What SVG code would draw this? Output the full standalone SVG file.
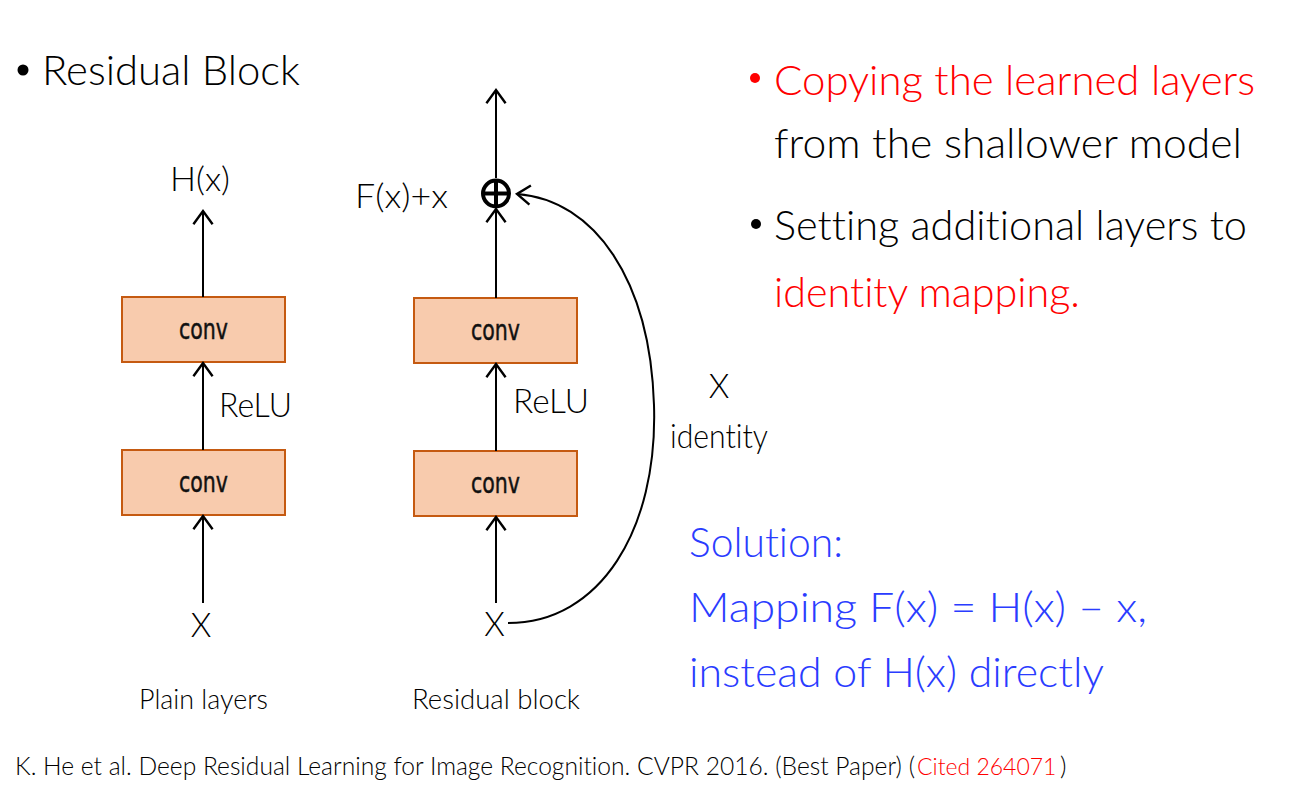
<svg xmlns="http://www.w3.org/2000/svg" width="1307" height="791" viewBox="0 0 1307 791">
  <defs>
    <style>
      text { font-family: Lato, "Open Sans", "Liberation Sans", sans-serif; font-weight: 300; fill: #000; font-variant-ligatures: none; }
      .title { font-size: 41px; }
      .lbl { font-size: 33px; }
      .cap { font-size: 27px; }
      .slide { font-size: 42px; }
      .red { fill: #ff0000; }
      .blue { fill: #2a3cff; }
      .box { fill: #f8cbad; stroke: #c55a11; stroke-width: 2; }
      .conv { font-family: "DejaVu Sans", Verdana, sans-serif; font-weight: normal; font-size: 28px; fill: #111; stroke: #111; stroke-width: 0.5; }
      .edge { fill: none; stroke: #000; stroke-width: 2; }
      .cite { font-size: 25px; }
    </style>
    <marker id="arr" markerUnits="userSpaceOnUse" markerWidth="24" markerHeight="24" viewBox="-14 -10 16 20" refX="0" refY="0" orient="auto">
      <path d="M-11,-8 L0,0 L-11,8" fill="none" stroke="#000" stroke-width="2"/>
    </marker>
  </defs>

  <rect width="1307" height="791" fill="#fff"/>

  <!-- heading -->
  <g id="heading">
    <circle cx="23" cy="70" r="5.5" fill="#000"/>
    <text class="title" x="42" y="85" textLength="258" lengthAdjust="spacingAndGlyphs">Residual Block</text>
  </g>

  <!-- plain stack -->
  <g id="plain-conv-top">
    <rect class="box" x="122" y="297" width="163" height="65"/>
    <text class="conv" x="203.5" y="339" text-anchor="middle" textLength="49" lengthAdjust="spacingAndGlyphs">conv</text>
  </g>
  <g id="plain-conv-bottom">
    <rect class="box" x="122" y="450" width="163" height="65"/>
    <text class="conv" x="203.5" y="492" text-anchor="middle" textLength="49" lengthAdjust="spacingAndGlyphs">conv</text>
  </g>
  <g id="plain-input"><text class="lbl" x="201" y="637" text-anchor="middle">X</text></g>
  <g id="plain-output"><text class="lbl" x="200" y="191" text-anchor="middle" textLength="60" lengthAdjust="spacingAndGlyphs">H(x)</text></g>
  <g id="plain-relu"><text class="lbl" x="219" y="417" textLength="73" lengthAdjust="spacingAndGlyphs">ReLU</text></g>
  <g id="plain-caption"><text class="cap" x="139" y="709" textLength="129" lengthAdjust="spacingAndGlyphs">Plain layers</text></g>

  <!-- residual stack -->
  <g id="res-conv-top">
    <rect class="box" x="414" y="298" width="163" height="65"/>
    <text class="conv" x="495.5" y="340" text-anchor="middle" textLength="49" lengthAdjust="spacingAndGlyphs">conv</text>
  </g>
  <g id="res-conv-bottom">
    <rect class="box" x="414" y="451" width="163" height="65"/>
    <text class="conv" x="495.5" y="493" text-anchor="middle" textLength="49" lengthAdjust="spacingAndGlyphs">conv</text>
  </g>
  <g id="res-sum">
    <circle cx="496" cy="193.5" r="13" fill="#fff" stroke="#000" stroke-width="4"/>
    <path d="M483,193.5 H509 M496,180.5 V206.5" stroke="#000" stroke-width="4"/>
  </g>
  <g id="res-sum-label"><text class="lbl" x="355" y="208" textLength="93" lengthAdjust="spacingAndGlyphs">F(x)+x</text></g>
  <g id="res-input"><text class="lbl" x="494.5" y="636" text-anchor="middle">X</text></g>
  <g id="res-relu"><text class="lbl" x="513" y="413" textLength="76" lengthAdjust="spacingAndGlyphs">ReLU</text></g>
  <g id="res-caption"><text class="cap" x="412" y="709" textLength="168" lengthAdjust="spacingAndGlyphs">Residual block</text></g>
  <g id="identity-label">
    <text class="lbl" x="719" y="398" text-anchor="middle">X</text>
    <text class="lbl" x="670" y="448" textLength="98" lengthAdjust="spacingAndGlyphs">identity</text>
  </g>

  <!-- connectors -->
  <g id="connectors">
    <path class="edge" d="M203,603 V516" marker-end="url(#arr)"/>
    <path class="edge" d="M203,450 V363" marker-end="url(#arr)"/>
    <path class="edge" d="M203,297 V211" marker-end="url(#arr)"/>
    <path class="edge" d="M496,603 V517" marker-end="url(#arr)"/>
    <path class="edge" d="M496,451 V364" marker-end="url(#arr)"/>
    <path class="edge" d="M496,298 V209" marker-end="url(#arr)"/>
    <path class="edge" d="M496,178 V90" marker-end="url(#arr)"/>
    <path class="edge" d="M508,623 C600,623 658,530 654,405 C650,280 595,200 517,194" marker-end="url(#arr)"/>
  </g>

  <!-- right-hand notes -->
  <g id="notes">
    <circle cx="755" cy="78" r="5" fill="#ff0000"/>
    <text class="slide red" x="774" y="95" textLength="481" lengthAdjust="spacingAndGlyphs">Copying the learned layers</text>
    <text class="slide" x="774" y="158" textLength="468" lengthAdjust="spacingAndGlyphs">from the shallower model</text>
    <circle cx="756" cy="224" r="5" fill="#000"/>
    <text class="slide" x="774" y="240" textLength="473" lengthAdjust="spacingAndGlyphs">Setting additional layers to</text>
    <text class="slide red" x="774" y="307" textLength="306" lengthAdjust="spacingAndGlyphs">identity mapping.</text>
  </g>

  <g id="solution">
    <text class="slide blue" x="689" y="557" textLength="154" lengthAdjust="spacingAndGlyphs">Solution:</text>
    <text class="slide blue" x="689" y="622" textLength="458" lengthAdjust="spacingAndGlyphs">Mapping F(x) = H(x) – x,</text>
    <text class="slide blue" x="689" y="687" textLength="415" lengthAdjust="spacingAndGlyphs">instead of H(x) directly</text>
  </g>

  <g id="citation">
    <text class="cite" x="15" y="775" textLength="900" lengthAdjust="spacingAndGlyphs">K. He et al. Deep Residual Learning for Image Recognition. CVPR 2016. (Best Paper) (</text>
    <text class="red" x="917" y="775" font-size="23">Cited 264071</text>
    <text class="cite" x="1060" y="775">)</text>
  </g>
</svg>
